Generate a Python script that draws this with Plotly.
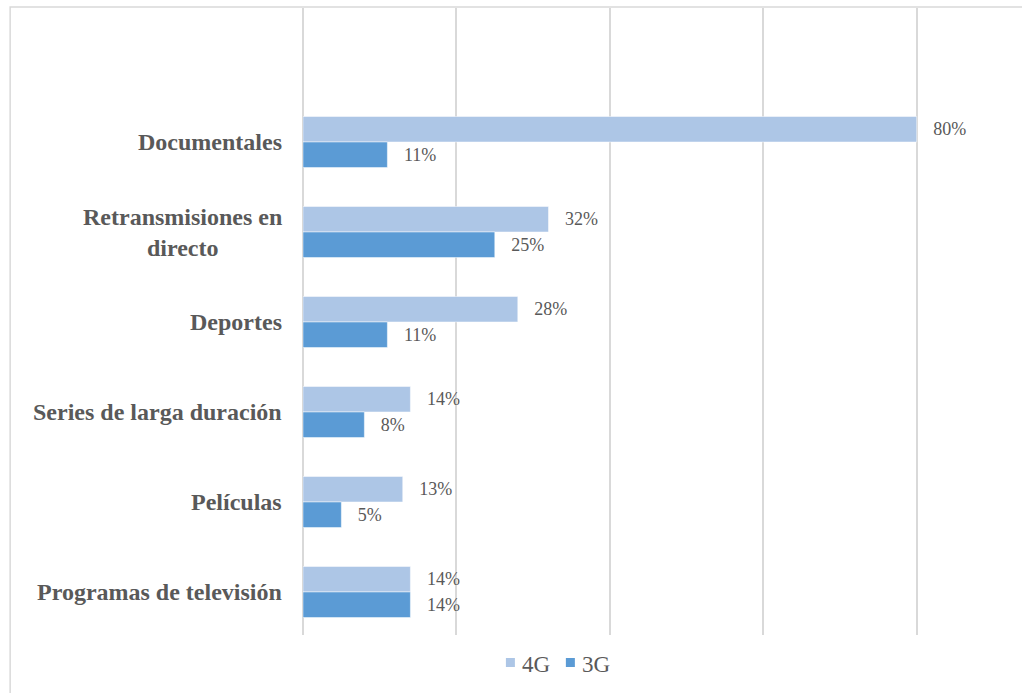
import plotly.graph_objects as go

categories = [
    "Documentales",
    "Retransmisiones en<br>directo",
    "Deportes",
    "Series de larga duración",
    "Películas",
    "Programas de televisión",
]
values_4g = [0.80, 0.32, 0.28, 0.14, 0.13, 0.14]
values_3g = [0.11, 0.25, 0.11, 0.08, 0.05, 0.14]
series_names = ["4G", "3G"]
series_colors = ["#ADC6E6", "#5B9BD5"]

FONT = "Liberation Serif"
TEXT_COLOR = "#595959"
GRID = "#D9D9D9"

# plot area in pixels (x axis: 0..80% spans 303..917)
W, H = 1022, 693
XMAX = 0.803
L, T, B = 303, 8, 635
R = L + 614 * XMAX / 0.8
PW, PH = R - L, B - T


def px_x(x):
    return (x - L) / PW


def px_y(y):
    return (B - y) / PH


fig = go.Figure()
for name, vals, col in zip(series_names, [values_4g, values_3g], series_colors):
    fig.add_trace(go.Bar(
        y=categories, x=vals, name=name, orientation="h",
        marker=dict(color=col, line=dict(color="rgba(255,255,255,0.6)", width=0.8)),
        text=["\u00a0\u00a0\u00a0" + f"{v * 100:.0f}%" for v in vals],
        textposition="outside", cliponaxis=False,
        textfont=dict(family=FONT, size=18, color=TEXT_COLOR),
        hoverinfo="skip", showlegend=False,
    ))

# category labels, centred per line and right-anchored beside the axis
annotations = []
for c in categories:
    annotations.append(dict(
        xref="paper", yref="y", x=px_x(284), y=c, xanchor="right", yanchor="middle",
        text="<b>" + c + "</b>", showarrow=False, align="center",
        font=dict(family=FONT, size=24, color=TEXT_COLOR),
    ))

# outer chart border
shapes = [dict(type="rect", xref="paper", yref="paper",
               x0=px_x(10), x1=px_x(1030), y0=px_y(700), y1=px_y(7),
               line=dict(color=GRID, width=1.5), layer="below")]

# legend below the plot: small colour key followed by the series name
legend_x = [506, 566]
for name, col, lx in zip(series_names, series_colors, legend_x):
    shapes.append(dict(type="rect", xref="paper", yref="paper",
                       x0=px_x(lx), x1=px_x(lx + 9), y0=px_y(667), y1=px_y(658),
                       fillcolor=col, line=dict(width=0)))
    annotations.append(dict(
        xref="paper", yref="paper", x=px_x(lx + 14), y=px_y(664),
        xanchor="left", yanchor="middle", text=name, showarrow=False,
        font=dict(family=FONT, size=23, color=TEXT_COLOR),
    ))

fig.update_layout(
    width=W, height=H,
    margin=dict(l=L, r=W - R, t=T, b=H - B, pad=0),
    paper_bgcolor="white", plot_bgcolor="white",
    barmode="group", bargap=0.433, bargroupgap=0,
    xaxis=dict(range=[0, XMAX], dtick=0.2, showgrid=True, gridcolor=GRID, gridwidth=2,
               zeroline=True, zerolinecolor=GRID, zerolinewidth=2,
               showticklabels=False, showline=False, fixedrange=True),
    yaxis=dict(type="category", categoryorder="array", categoryarray=categories,
               range=[5.478, -1.489], showticklabels=False, showgrid=False,
               zeroline=False, showline=False),
    annotations=annotations,
    shapes=shapes,
    showlegend=False,
)

fig.write_html("out.html")
